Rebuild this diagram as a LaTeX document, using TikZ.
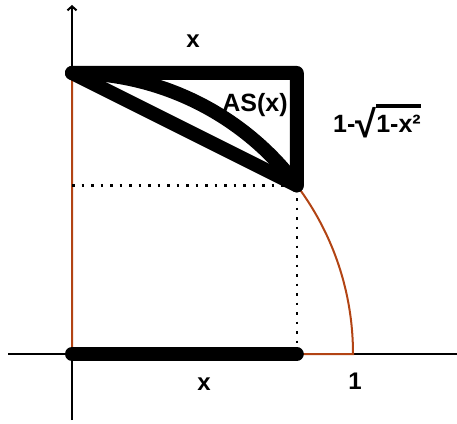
\documentclass[tikz,border=0pt]{standalone}
\usepackage{fontspec}
\setmainfont{Liberation Sans}
\usetikzlibrary{arrows.meta}
\definecolor{brownc}{RGB}{178,68,20}
\newlength\ovw
\newlength\ovh
\begin{document}
\begin{tikzpicture}[x=1pt,y=1pt,
  thickline/.style={line width=14pt, line cap=round, line join=round},
  axisline/.style={line width=2pt},
  brownline/.style={draw=brownc, line width=2pt},
  dotline/.style={line width=2.5pt, dash pattern=on 2.5pt off 7pt},
  lbl/.style={font=\fontsize{24}{28}\selectfont\bfseries, inner sep=0pt}]
\useasboundingbox (0,0) rectangle (457,423);
\coordinate (O) at (72,69);
\coordinate (A) at (72,350);
\coordinate (B) at (353,69);
\coordinate (C) at (296.8,350);
\coordinate (P) at (296.8,237.6);
\coordinate (Q) at (296.8,69);
\coordinate (D) at (72,237.6);
\coordinate (xl) at (8,69);
\coordinate (xr) at (457,69);
\coordinate (yb) at (72,3);
\coordinate (yt) at (72,418);
% axes
\draw[axisline] (xl) -- (xr);
\draw[axisline,-{Straight Barb[length=4pt,width=9pt]}] (yb) -- (yt);
% quarter disc outline
\draw[brownline] (A) -- (O) -- (B) arc[start angle=0,end angle=90,radius=281];
% dotted projections
\draw[dotline] (D) -- (P) -- (Q);
% thick black shapes
\draw[thickline] (A) -- (C) -- (P) -- cycle;
\draw[thickline] (A) arc[start angle=90,end angle=36.87,radius=281];
\draw[thickline] (O) -- (Q);
% labels
\node[lbl] (xtop) at (193,382) {x};
\node[lbl] (xbot) at (204,39) {x};
\node[lbl] (one) at (355,42) {1};
\node[lbl, font=\fontsize{25}{28}\selectfont\bfseries] (as) at (255,318) {AS(x)};
\node[lbl, font=\fontsize{25}{28}\selectfont\bfseries, anchor=base west] (h) at (333,290) {1-{\fontsize{38}{38}\selectfont\raisebox{-5pt}{√}}\settowidth{\ovw}{1-x²}\rlap{\rule[25pt]{\ovw}{3.5pt}}1-x²};
\end{tikzpicture}
\end{document}
